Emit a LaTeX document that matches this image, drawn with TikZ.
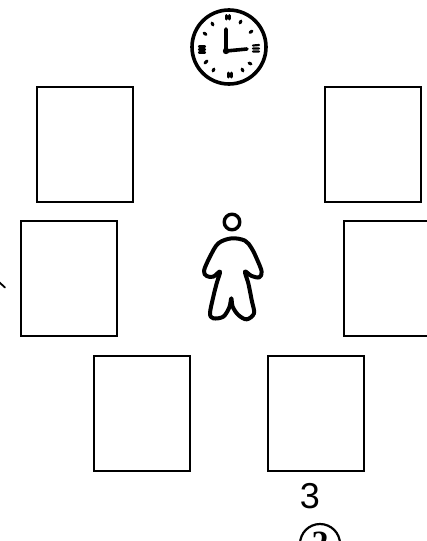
\documentclass[tikz,border=0pt]{standalone}
\usepackage{fontspec}
\setmainfont{Liberation Sans}
\newfontfamily\circfont{Liberation Serif}
\tikzset{
  panel/.style={draw=black,line width=2pt,fill=white,inner sep=0pt,outer sep=0pt,minimum width=96pt,minimum height=115pt},
  ink/.style={draw=black,line cap=round,line join=round},
  tick/.style={ink,line width=3pt}
}
\begin{document}
\begin{tikzpicture}[x=1pt,y=-1pt]
\useasboundingbox (0,0) rectangle (427,541);
\clip (0,0) rectangle (427,541);
\fill[white] (0,0) rectangle (427,541);
% panels
\node[panel] (p1) at (85,144.5) {};
\node[panel] (p2) at (373,144.5) {};
\node[panel] (p3) at (69,278.5) {};
\node[panel] (p4) at (392,278.5) {};
\node[panel] (p5) at (142,413) {};
\node[panel] (p6) at (316,413) {};
% clock
\draw[ink,line width=3.6pt] (229,47) circle (37);
\draw[ink,line width=3.6pt] (226,29) -- (226,51) -- (247,49);
\fill (226,51) circle (3.2);
\draw[tick] (226,15.5) -- (226,19) (229.5,15.5) -- (229.5,19);
\draw[tick] (228,73) -- (228,77) (231.5,73) -- (231.5,77);
\draw[tick,line width=2.2pt] (253,45.5) -- (259,45) (253,48.5) -- (259,48.5) (253,51.5) -- (259,51.5);
\draw[tick,line width=2.2pt] (199,46.5) -- (205,46.5) (199,49.5) -- (205,49.5) (199,52.5) -- (205,52.5);
\draw[tick] (241,21) -- (240,23);
\draw[tick] (252,31) -- (250,32.5);
\draw[tick] (249,63) -- (251,64);
\draw[tick] (242,69) -- (243,71);
\draw[tick] (214,69) -- (213,71);
\draw[tick] (207,61) -- (205,63);
\draw[tick] (204,33) -- (206,34.5);
\draw[tick] (212,23) -- (213,25);
% person
\draw[ink,line width=3.4pt] (232,222) circle (7.8);
\begin{scope}[shift={(180,200)},x=0.3333pt,y=-0.3333pt]
\draw[ink,line width=4pt] plot[smooth cycle,tension=0.55] coordinates {
(155,115) (195,122) (215,145) (232,180) (245,215) (238,232) (215,228) (195,215)
(205,250) (215,300) (222,340) (200,358) (175,345) (158,320) (154,295) (148,322)
(130,350) (100,355) (90,340) (100,290) (110,250) (120,215) (100,230) (80,228)
(72,212) (90,170) (115,130)};
\end{scope}
% left mark
\coordinate (m1) at (-1,282);
\coordinate (m2) at (5,287.5);
\draw[ink,line width=1.8pt] (m1) -- (m2);
% labels
\node[inner sep=0pt,font=\fontsize{36}{36}\selectfont] (n3) at (310,496) {3};
\node[draw=black,circle,line width=2.2pt,minimum size=40pt,inner sep=0pt] (c2) at (320,544) {};
\node[inner sep=0pt,font=\circfont\bfseries\fontsize{34}{34}\selectfont] (t2) at (320,543) {2};
\end{tikzpicture}
\end{document}
